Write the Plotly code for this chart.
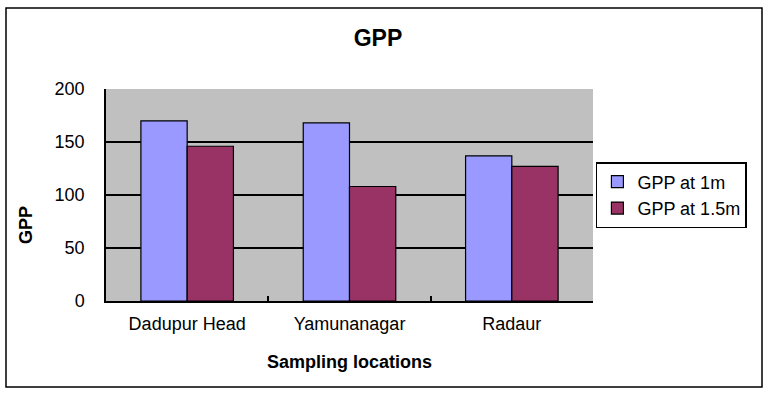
import plotly.graph_objects as go

categories = ["Dadupur Head", "Yamunanagar", "Radaur"]
gpp_1m = [170, 168, 137]
gpp_15m = [146, 108, 127]
series_names = ["GPP at 1m", "GPP at 1.5m"]
y_ticks = [0, 50, 100, 150, 200]

FONT = "Liberation Sans, Arial, sans-serif"

fig = go.Figure()
fig.add_trace(go.Bar(x=categories, y=gpp_1m, name=series_names[0],
                     marker=dict(color="#9999FF", line=dict(color="black", width=1.2))))
fig.add_trace(go.Bar(x=categories, y=gpp_15m, name=series_names[1],
                     marker=dict(color="#993366", line=dict(color="black", width=1.2))))

fig.update_layout(
    width=768, height=395,
    margin=dict(l=106, r=175, t=89, b=94),
    paper_bgcolor="white",
    plot_bgcolor="#C0C0C0",
    barmode="group",
    bargap=0.43,
    bargroupgap=0,
    font=dict(family=FONT, color="black", size=18),
    title=dict(text="<b>GPP</b>", x=378 / 768, xanchor="center", y=1 - 38 / 395, yanchor="middle",
               font=dict(family=FONT, size=23, color="black")),
    legend=dict(x=1.006, xanchor="left", y=(301 - 195) / 212, yanchor="middle",
                bgcolor="white", bordercolor="black", borderwidth=1.5,
                font=dict(family=FONT, size=18, color="black"),
                itemwidth=30),
    showlegend=True,
)

fig.update_xaxes(
    type="category",
    showline=True, linecolor="black", linewidth=1.5,
    ticks="inside", tickson="boundaries", ticklen=5, tickcolor="black", tickwidth=1.5,
    tickfont=dict(family=FONT, size=18, color="black"),
    ticklabelstandoff=6,
    showgrid=False,
    title=dict(text="<b>Sampling locations</b>", standoff=22,
               font=dict(family=FONT, size=18, color="black")),
    automargin=False,
)
fig.update_yaxes(
    range=[0, 200],
    tickvals=y_ticks,
    showline=True, linecolor="black", linewidth=1.5,
    ticks="inside", ticklen=7, tickcolor="black", tickwidth=1.5,
    tickfont=dict(family=FONT, size=18, color="black"),
    ticklabelstandoff=16,
    showgrid=True, gridcolor="black", gridwidth=1.5,
    zeroline=False,
    automargin=False,
)

fig.add_annotation(text="<b>GPP</b>", textangle=-90, xref="paper", yref="paper",
                   x=(26 - 106) / 487, y=(301 - 225) / 212, xanchor="center", yanchor="middle",
                   showarrow=False, font=dict(family=FONT, size=18, color="black"))

# outer chart border
fig.add_shape(type="rect", xref="paper", yref="paper",
              x0=(6 - 106) / 487, x1=(762 - 106) / 487, y0=(301 - 387) / 212, y1=(301 - 8) / 212,
              line=dict(color="black", width=1.5), layer="below")

fig.write_html("out.html", config={"displayModeBar": False},
               post_script="document.body.style.margin='0px';")
